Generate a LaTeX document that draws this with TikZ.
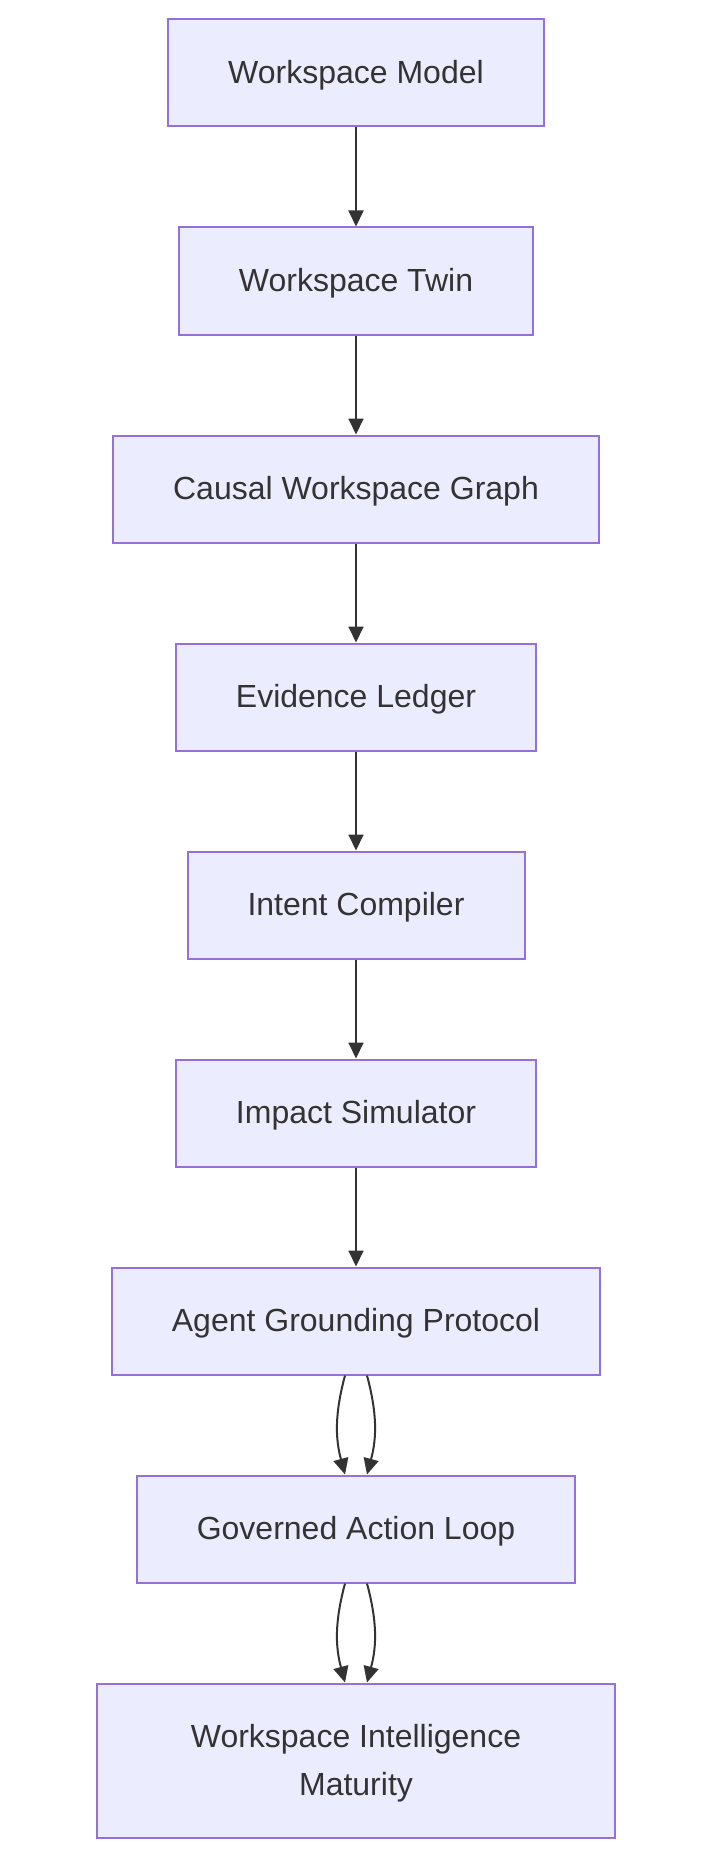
\documentclass[tikz,border=0pt]{standalone}
\usepackage{fontspec}
\setmainfont{Liberation Sans}
\usetikzlibrary{positioning, arrows.meta}
\definecolor{boxfill}{HTML}{ECECFF}
\definecolor{boxline}{HTML}{9370DB}
\definecolor{ink}{HTML}{333333}
\tikzset{
  >={Triangle[length=16pt, width=15pt]}, % filled arrow heads
  node distance=99pt, % gap between two boxes
  stage/.style={draw=boxline, fill=boxfill, line width=2pt, text=ink,
    minimum height=107pt, inner xsep=60pt, text depth=1.5pt,
    font=\fontsize{32}{48}\selectfont}, % one box of the chain
  link/.style={->, draw=ink, line width=2pt}, % edge between two boxes
}

\begin{document}
\begin{tikzpicture}[x=1pt, y=1pt]
  \useasboundingbox (0,0) rectangle (712,-1859);

  \node[stage] (model) at (356,-73) {Workspace Model};
  \node[stage, below=of model] (twin) {Workspace Twin};
  \node[stage, below=of twin] (graph) {Causal Workspace Graph};
  \node[stage, below=of graph] (ledger) {Evidence Ledger};
  \node[stage, below=of ledger] (intent) {Intent Compiler};
  \node[stage, below=of intent] (impact) {Impact Simulator};
  \node[stage, below=of impact] (agent) {Agent Grounding Protocol};
  \node[stage, below=of agent] (loop) {Governed Action Loop};
  \node[stage, below=of loop, minimum width=518pt, minimum height=154pt,
    align=center] (maturity) {Workspace Intelligence\\ Maturity};

  \draw[link] (model) -- (twin);
  \draw[link] (twin) -- (graph);
  \draw[link] (graph) -- (ledger);
  \draw[link] (ledger) -- (intent);
  \draw[link] (intent) -- (impact);
  \draw[link] (impact) -- (agent);

  % two edges side by side
  \draw[link] ([xshift=-11pt]agent.south) to[bend right=15] ([xshift=-11pt]loop.north);
  \draw[link] ([xshift=11pt]agent.south) to[bend left=15] ([xshift=11pt]loop.north);
  \draw[link] ([xshift=-11pt]loop.south) to[bend right=15] ([xshift=-11pt]maturity.north);
  \draw[link] ([xshift=11pt]loop.south) to[bend left=15] ([xshift=11pt]maturity.north);

\end{tikzpicture}
\end{document}
